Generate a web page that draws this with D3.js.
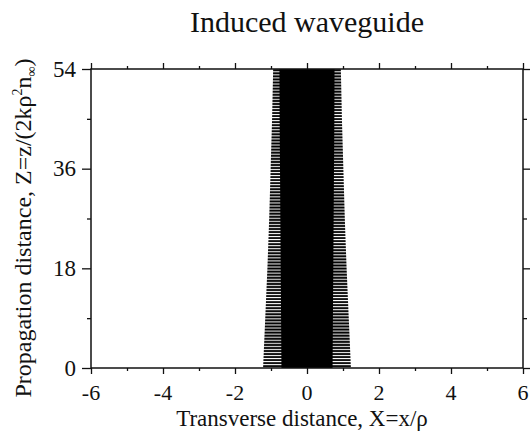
<!DOCTYPE html>
<html><head><meta charset="utf-8">
<script src="https://cdn.jsdelivr.net/npm/d3@7"></script>
<style>
body{margin:0;background:#fff;}
</style></head>
<body><svg id="c" width="530" height="435"></svg>
<script>
// ---- data ----
const xTicks = [-6,-4,-2,0,2,4,6];
const xMinor = [-5,-3,-1,1,3,5];
const yTicks = [0,18,36,54];
const yMinor = [9,27,45];
// waveguide envelope sampled along propagation distance Z
const zSamples   = [0, 9, 18, 27, 36, 45, 54];
const outerHalf  = [1.22, 1.16, 1.10, 1.05, 1.01, 0.97, 0.94];  // tip of the fringes
const coreHalf   = [0.71, 0.72, 0.73, 0.74, 0.75, 0.76, 0.765]; // solid core
const title = "Induced waveguide";
const FONT = "Liberation Serif";

// ---- layout ----
const svg = d3.select("#c");
const L=91, R=523, T=69, B=368;
const x = d3.scaleLinear().domain([-6,6]).range([L,R]);
const y = d3.scaleLinear().domain([0,54]).range([B,T]);

// stripe pattern for fringes
const defs = svg.append("defs");
const pat = defs.append("pattern").attr("id","teeth")
  .attr("patternUnits","userSpaceOnUse").attr("width",10).attr("height",3.05)
  .attr("y", B);
pat.append("rect").attr("x",0).attr("y",0.2).attr("width",10).attr("height",2.0).attr("fill","#000");
defs.append("clipPath").attr("id","plotclip").append("rect")
  .attr("x",L).attr("y",T).attr("width",R-L).attr("height",B-T);

const pts = zSamples.map((z,i)=>({z, o:outerHalf[i], c:coreHalf[i]}));
const g = svg.append("g").attr("clip-path","url(#plotclip)");
const outerArea = d3.area().y(d=>y(d.z)).x0(d=>x(-d.o)).x1(d=>x(d.o));
const coreArea = d3.area().y(d=>y(d.z)).x0(d=>x(-d.c)).x1(d=>x(d.c));
g.append("path").datum(pts).attr("d",outerArea).attr("fill","url(#teeth)");
g.append("path").datum(pts).attr("d",coreArea).attr("fill","#000");

// ---- axes (tick marks) ----
function styleAxis(sel){
  sel.select(".domain").remove();
  sel.selectAll("line").attr("stroke","#111").attr("stroke-width",1.3);
}
const ax = svg.append("g");
ax.append("g").attr("transform",`translate(0,${B})`).call(d3.axisBottom(x).tickValues(xTicks).tickSize(6).tickFormat("")).call(styleAxis);
ax.append("g").attr("transform",`translate(0,${B})`).call(d3.axisBottom(x).tickValues(xMinor).tickSize(3).tickFormat("")).call(styleAxis);
ax.append("g").attr("transform",`translate(0,${T})`).call(d3.axisTop(x).tickValues(xTicks).tickSize(6).tickFormat("")).call(styleAxis);
ax.append("g").attr("transform",`translate(0,${T})`).call(d3.axisTop(x).tickValues(xMinor).tickSize(3).tickFormat("")).call(styleAxis);
ax.append("g").attr("transform",`translate(${L},0)`).call(d3.axisLeft(y).tickValues(yTicks).tickSize(9).tickFormat("")).call(styleAxis);
ax.append("g").attr("transform",`translate(${L},0)`).call(d3.axisLeft(y).tickValues(yMinor).tickSize(4).tickFormat("")).call(styleAxis);
ax.append("g").attr("transform",`translate(${R},0)`).call(d3.axisRight(y).tickValues(yTicks).tickSize(8).tickFormat("")).call(styleAxis);
ax.append("g").attr("transform",`translate(${R},0)`).call(d3.axisRight(y).tickValues(yMinor).tickSize(4).tickFormat("")).call(styleAxis);
svg.append("rect").attr("x",L).attr("y",T).attr("width",R-L).attr("height",B-T)
  .attr("fill","none").attr("stroke","#111").attr("stroke-width",1.5);

// ---- tick labels ----
svg.append("g").selectAll("text").data(xTicks).join("text")
  .attr("x",d=>x(d)).attr("y",400).attr("text-anchor","middle")
  .attr("font-family",FONT).attr("font-size",22).attr("fill","#111").text(d=>String(d));
svg.append("g").selectAll("text").data(yTicks).join("text")
  .attr("x",L-15).attr("y",d=>y(d)).attr("dy","0.34em").attr("text-anchor","end")
  .attr("font-family",FONT).attr("font-size",23).attr("fill","#111").text(d=>String(d));

// ---- titles ----
svg.append("text").attr("x",307).attr("y",32).attr("text-anchor","middle")
  .attr("font-family",FONT).attr("font-size",30).attr("fill","#111").text(title);
svg.append("text").attr("x",302).attr("y",426).attr("text-anchor","middle")
  .attr("font-family",FONT).attr("font-size",23).attr("fill","#111")
  .text("Transverse distance, X=x/ρ");
const yl = svg.append("text").attr("transform","translate(31,228) rotate(-90)").attr("text-anchor","middle")
  .attr("font-family",FONT).attr("font-size",24).attr("fill","#111");
yl.append("tspan").text("Propagation distance, Z=z/(2kρ");
yl.append("tspan").attr("font-size",14).attr("dy",-9).text("2");
yl.append("tspan").attr("dy",9).text("n");
yl.append("tspan").attr("font-size",14).attr("dy",5).text("∞");
yl.append("tspan").attr("dy",-5).text(")");
</script></body></html>
